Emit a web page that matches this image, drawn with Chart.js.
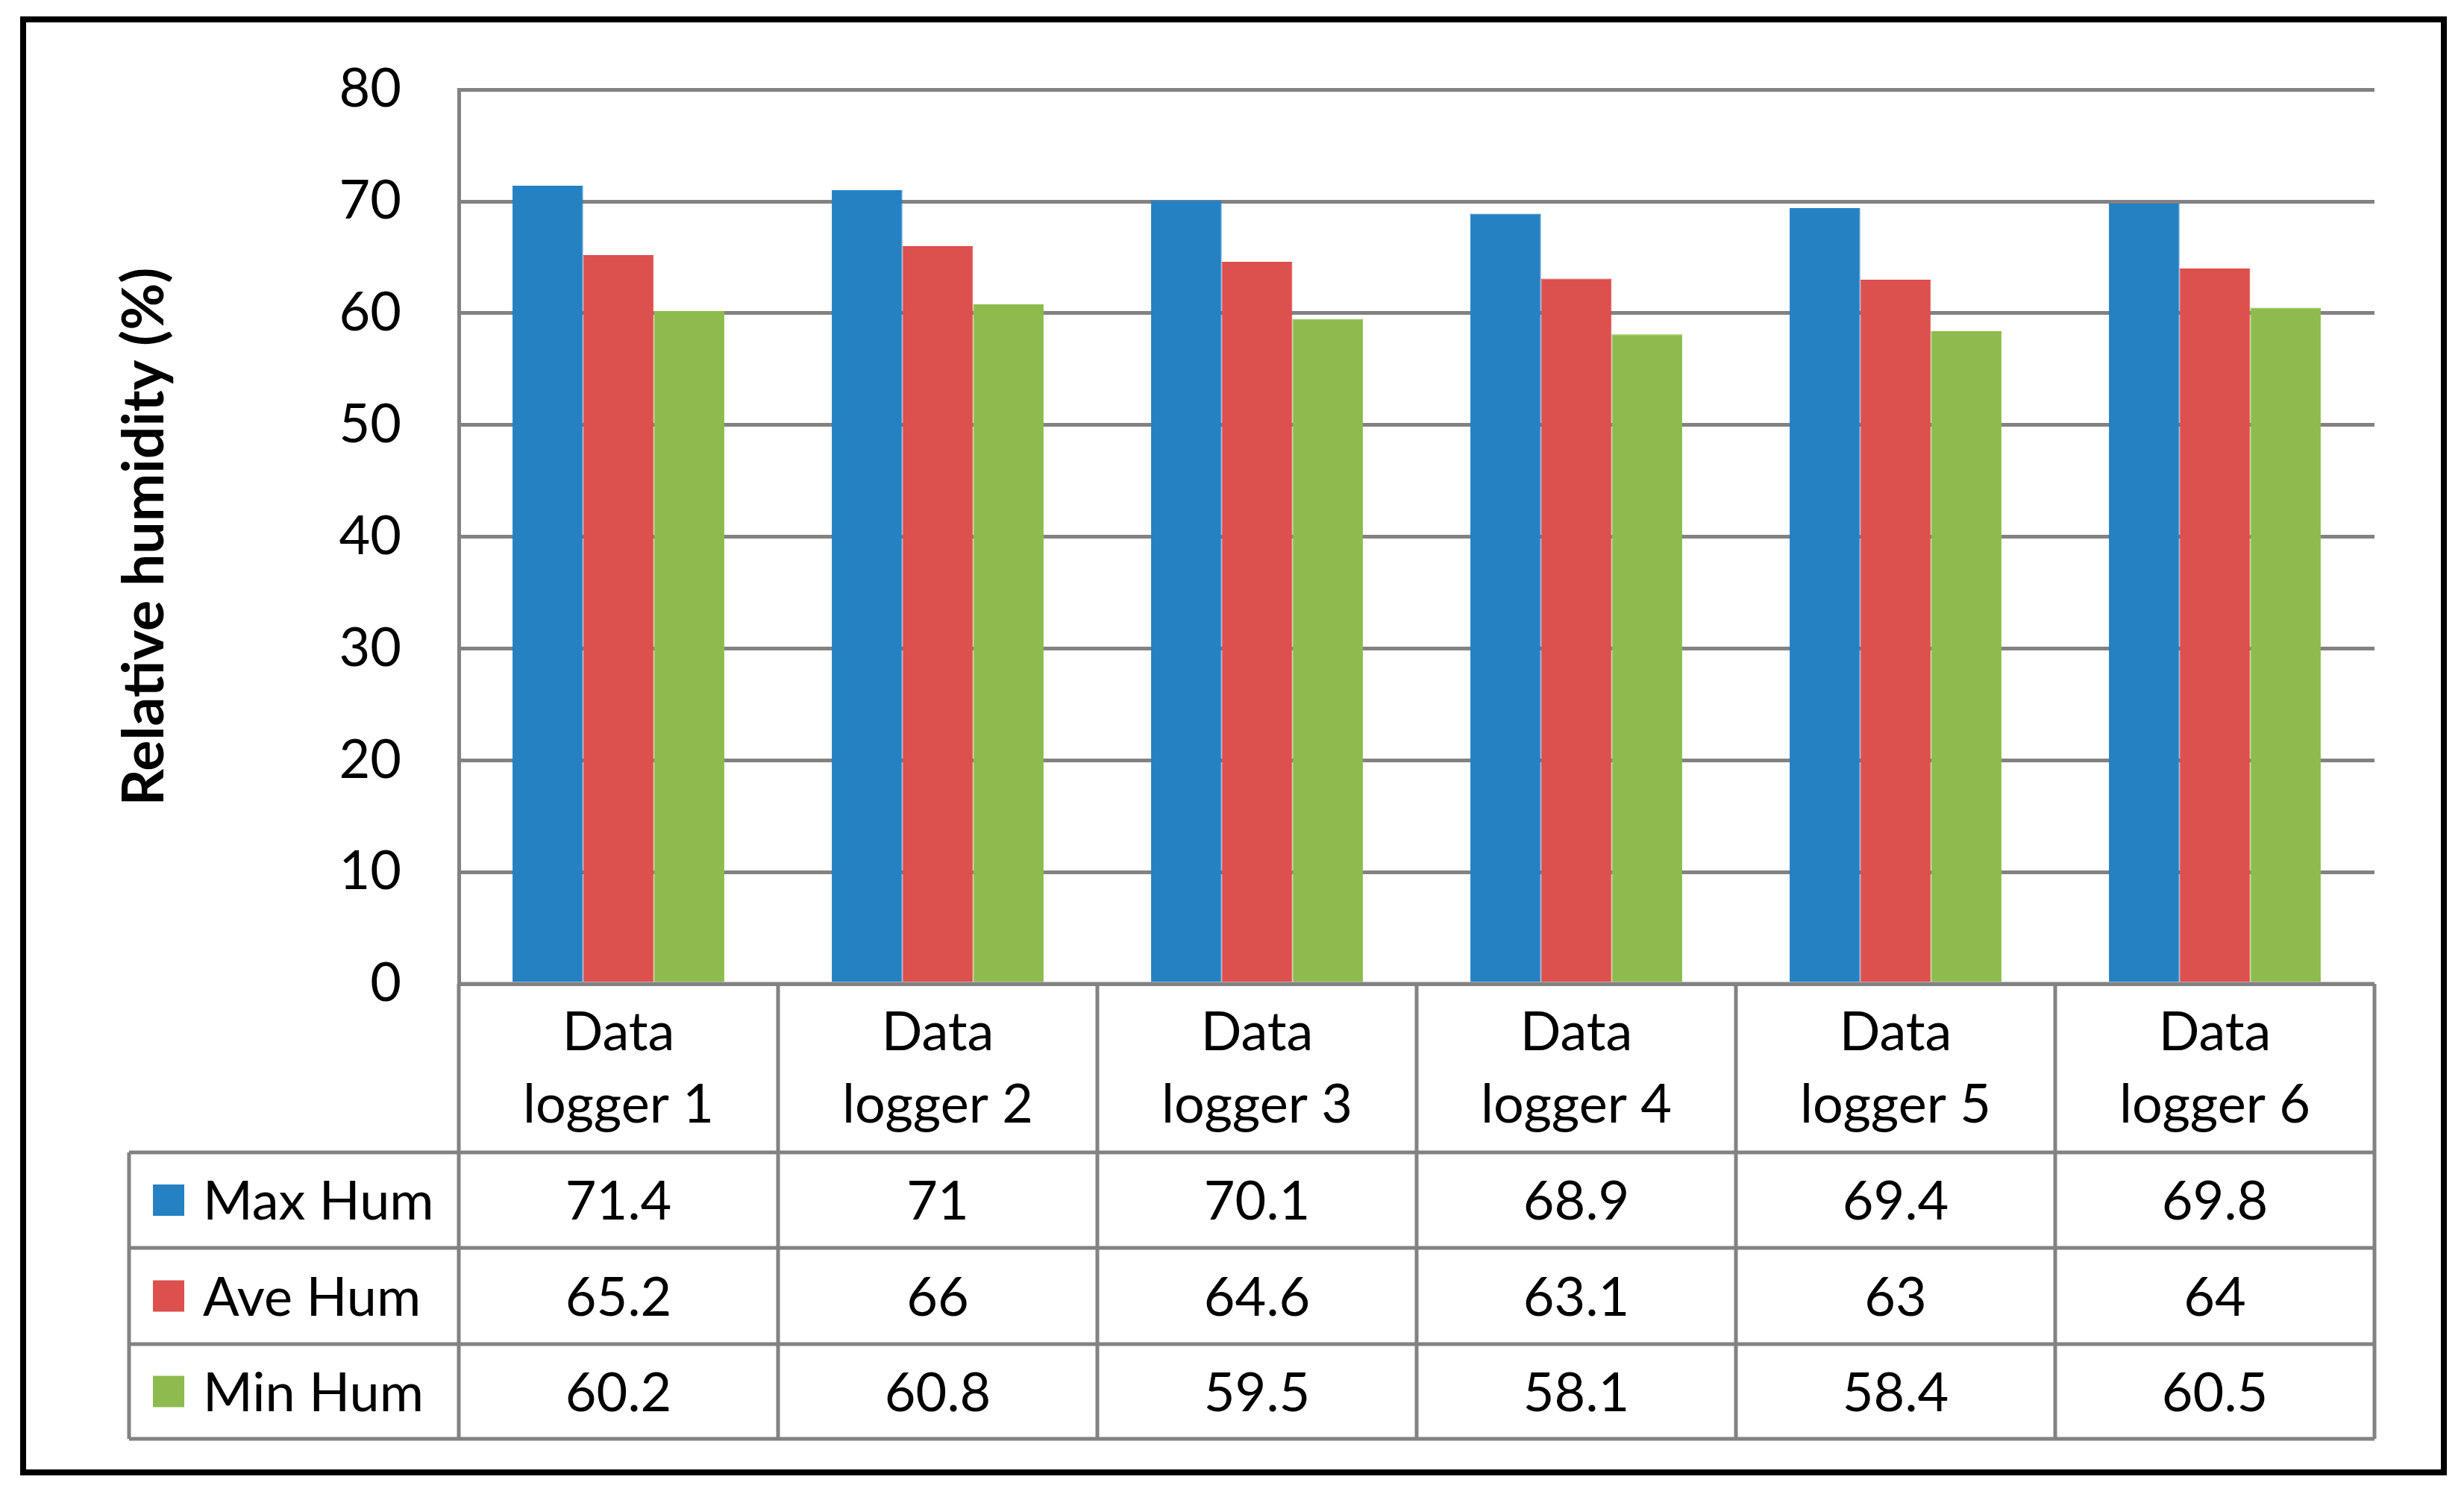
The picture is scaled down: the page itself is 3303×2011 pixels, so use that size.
<!DOCTYPE html>
<html>
<head>
<meta charset="utf-8">
<script src="https://cdn.jsdelivr.net/npm/chart.js@4.4.0/dist/chart.umd.min.js"></script>
<style>
html, body { margin: 0; padding: 0; background: #fff; }
canvas { display: block; }
</style>
</head>
<body>
<canvas id="myChart" width="3303" height="2011"></canvas>
<script>
// data
const categories = ["Data logger 1", "Data logger 2", "Data logger 3", "Data logger 4", "Data logger 5", "Data logger 6"];
const seriesNames = ["Max Hum", "Ave Hum", "Min Hum"];
const maxHum = [71.4, 71, 70.1, 68.9, 69.4, 69.8];
const aveHum = [65.2, 66, 64.6, 63.1, 63, 64];
const minHum = [60.2, 60.8, 59.5, 58.1, 58.4, 60.5];
const yMin = 0, yMax = 80, yStep = 10;

const colors = ["#2581c2", "#dc504e", "#8dbb4d"];
const gridColor = "#828282";
const fontFamily = "Lato, 'Open Sans', sans-serif";

//table under the plot, drawn with the x scale columns
const dataTable = {
    id: 'dataTable',
    afterDraw(chart) {
        const ctx = chart.ctx;
        const area = chart.chartArea;
        const xScale = chart.scales.x;
        const step = (area.right - area.left) / categories.length;
        const legendLeft = 173;
        const headerBottom = 1545;
        const rowLines = [1545, 1673, 1802, 1929];
        const allSeries = [maxHum, aveHum, minHum];

        ctx.save();
        ctx.strokeStyle = gridColor;
        ctx.lineWidth = 5;
        ctx.beginPath();
        // top of table
        ctx.moveTo(area.left, area.bottom);
        ctx.lineTo(area.right, area.bottom);
        rowLines.forEach(y => {
            ctx.moveTo(legendLeft, y);
            ctx.lineTo(area.right, y);
        });
        for (let i = 0; i <= categories.length; i++) {
            const x = area.left + i * step;
            ctx.moveTo(x, area.bottom);
            ctx.lineTo(x, rowLines[rowLines.length - 1]);
        }
        ctx.moveTo(legendLeft, headerBottom);
        ctx.lineTo(legendLeft, rowLines[rowLines.length - 1]);
        ctx.stroke();

        ctx.fillStyle = "#000";
        ctx.font = "72px " + fontFamily;
        ctx.textAlign = "center";
        ctx.textBaseline = "alphabetic";

        // header: two lines per category
        categories.forEach((cat, i) => {
            const cx = xScale.getPixelForValue(i);
            const cut = cat.indexOf(" ");
            ctx.fillText(cat.slice(0, cut), cx, 1408);
            ctx.fillText(cat.slice(cut + 1), cx, 1505);
        });

        // value rows
        allSeries.forEach((values, r) => {
            const cy = (rowLines[r] + rowLines[r + 1]) / 2;
            values.forEach((v, i) => {
                ctx.textAlign = "center";
                ctx.fillText(String(v), xScale.getPixelForValue(i), cy + 26);
            });
            ctx.fillStyle = colors[r];
            ctx.fillRect(205, cy - 21, 42, 42);
            ctx.fillStyle = "#000";
            ctx.textAlign = "left";
            ctx.fillText(seriesNames[r], 272, cy + 26);
        });

        // outer frame
        ctx.strokeStyle = "#000";
        ctx.lineWidth = 8;
        ctx.strokeRect(31, 26, 3245, 1948);
        ctx.restore();
    }
};

let canvasElement = document.getElementById("myChart").getContext('2d');
let config = {
    type: 'bar',
    data: {
        labels: categories,
        datasets: [{
                label: seriesNames[0],
                data: maxHum,
                backgroundColor: colors[0],
                borderColor: "#1d7fc8",
                borderWidth: 1
            },
            {
                label: seriesNames[1],
                data: aveHum,
                backgroundColor: colors[1],
                borderColor: "#e04a48",
                borderWidth: 1
            },
            {
                label: seriesNames[2],
                data: minHum,
                backgroundColor: colors[2],
                borderColor: "#8fc04a",
                borderWidth: 1
            }
        ]
    },
    options: {
        responsive: false,
        devicePixelRatio: 1,
        animation: false,
        layout: {
            padding: { left: 148, top: 119, right: 120, bottom: 692 }
        },
        datasets: {
            bar: { categoryPercentage: 0.664, barPercentage: 1.0 }
        },
        plugins: {
            legend: { display: false },
            tooltip: { enabled: false }
        },
        scales: {
            x: {
                display: false
            },
            y: {
                min: yMin,
                max: yMax,
                afterFit(scale) { scale.width = 615 - 148; },
                ticks: {
                    stepSize: yStep,
                    padding: 77,
                    color: "#000",
                    font: { family: fontFamily, size: 72 }
                },
                grid: {
                    color: gridColor,
                    lineWidth: 5,
                    drawTicks: false
                },
                border: { display: true, color: gridColor, width: 5 },
                title: {
                    display: true,
                    text: "Relative humidity (%)",
                    color: "#000",
                    padding: 0,
                    font: { family: fontFamily, size: 77, weight: 'bold', lineHeight: 1.2 }
                }
            }
        }
    },
    plugins: [dataTable]
};

let myChart = new Chart(canvasElement, config);
</script>
</body>
</html>
